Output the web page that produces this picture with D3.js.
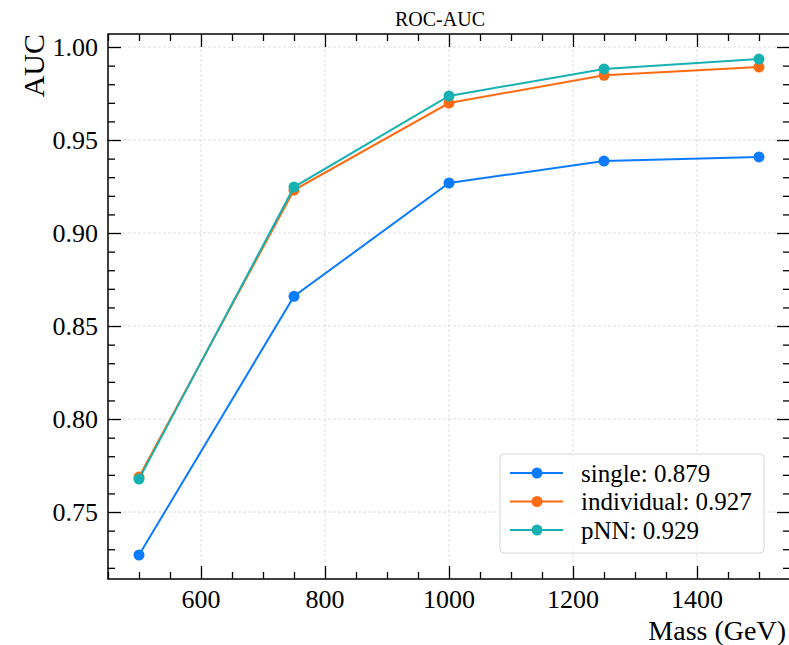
<!DOCTYPE html>
<html>
<head>
<meta charset="utf-8">
<script src="https://cdn.jsdelivr.net/npm/d3@7"></script>
<style>
  body { margin: 0; background: #fff; }
  svg text { font-family: "Liberation Serif", "DejaVu Serif", serif; fill: #000; }
</style>
</head>
<body>
<div id="root"></div>
<script>
const masses = [500, 750, 1000, 1250, 1500];
const singleAuc = [0.7269, 0.8660, 0.9269, 0.9387, 0.9409];
const individualAuc = [0.7688, 0.9231, 0.9699, 0.9848, 0.9892];
const pnnAuc = [0.7677, 0.9247, 0.9737, 0.9882, 0.9935];
const seriesNames = ['single: 0.879', 'individual: 0.927', 'pNN: 0.929'];
const seriesColors = ['#0c7bfd', '#ff6b12', '#17b1b3'];
const xTicks = [600, 800, 1000, 1200, 1400];
const yTicks = [0.75, 0.80, 0.85, 0.90, 0.95, 1.00];

const w = 789;
const h = 645;
const plotLeft = 108, plotRight = 790, plotTop = 34, plotBottom = 579;

const xScale = d3.scaleLinear().domain([450, 1550]).range([plotLeft, plotRight]);
const yScale = d3.scaleLinear().domain([0.714, 1.007]).range([plotBottom, plotTop]);

const svg = d3.select('#root')
  .append('svg')
  .attr('width', w)
  .attr('height', h);

// griglia
svg.append('g')
  .selectAll('line')
  .data(xTicks)
  .enter()
  .append('line')
  .attr('x1', d => xScale(d)).attr('x2', d => xScale(d))
  .attr('y1', plotTop).attr('y2', plotBottom)
  .attr('stroke', '#d5d5d5').attr('stroke-width', 0.8)
  .attr('stroke-dasharray', '3,2');
svg.append('g')
  .selectAll('line')
  .data(yTicks)
  .enter()
  .append('line')
  .attr('x1', plotLeft).attr('x2', plotRight)
  .attr('y1', d => yScale(d)).attr('y2', d => yScale(d))
  .attr('stroke', '#d5d5d5').attr('stroke-width', 0.8)
  .attr('stroke-dasharray', '3,2');

// assi (tick verso l'interno, su tutti i lati)
const xMinor = d3.range(450, 1551, 50).filter(v => v % 200 !== 0);
const yMinor = d3.range(72, 101).map(v => v / 100).filter(v => Math.round(v * 100) % 5 !== 0);

function styleAxis(g) {
  g.select('.domain').remove();
  g.selectAll('line').attr('stroke', '#000').attr('stroke-width', 1.3);
}

function addTicks(axisFn, pos, ticks, size, isX) {
  svg.append('g')
    .attr('transform', isX ? `translate(0, ${pos})` : `translate(${pos}, 0)`)
    .call(axisFn(isX ? xScale : yScale).tickValues(ticks).tickSize(size).tickFormat(''))
    .call(styleAxis);
}

addTicks(d3.axisTop, plotBottom, xTicks, 13, true);
addTicks(d3.axisTop, plotBottom, xMinor, 7, true);
addTicks(d3.axisBottom, plotTop, xTicks, 13, true);
addTicks(d3.axisBottom, plotTop, xMinor, 7, true);
addTicks(d3.axisRight, plotLeft, yTicks, 13, false);
addTicks(d3.axisRight, plotLeft, yMinor, 7, false);
addTicks(d3.axisLeft, plotRight, yTicks, 13, false);
addTicks(d3.axisLeft, plotRight, yMinor, 7, false);

// etichette dei tick
svg.append('g')
  .selectAll('text')
  .data(xTicks)
  .enter()
  .append('text')
  .attr('x', d => xScale(d))
  .attr('y', plotBottom + 29)
  .attr('text-anchor', 'middle')
  .style('font-size', '26px')
  .text(d => d);
svg.append('g')
  .selectAll('text')
  .data(yTicks)
  .enter()
  .append('text')
  .attr('x', plotLeft - 10)
  .attr('y', d => yScale(d))
  .attr('dy', '0.35em')
  .attr('text-anchor', 'end')
  .style('font-size', '26px')
  .text(d => d.toFixed(2));

// cornice
svg.append('rect')
  .attr('x', plotLeft).attr('y', plotTop)
  .attr('width', plotRight - plotLeft).attr('height', plotBottom - plotTop)
  .attr('fill', 'none').attr('stroke', '#000').attr('stroke-width', 1.5);

// linee e punti
const allSeries = [singleAuc, individualAuc, pnnAuc];
const line = d3.line().x((d, i) => xScale(masses[i])).y(d => yScale(d));

allSeries.forEach((vals, k) => {
  svg.append('path')
    .datum(vals)
    .attr('d', line)
    .attr('fill', 'none')
    .attr('stroke', seriesColors[k])
    .attr('stroke-width', 2);
  svg.append('g')
    .selectAll('circle')
    .data(vals)
    .enter()
    .append('circle')
    .attr('cx', (d, i) => xScale(masses[i]))
    .attr('cy', d => yScale(d))
    .attr('r', 5.5)
    .attr('fill', seriesColors[k]);
});

// titolo e assi
svg.append('text')
  .attr('x', 440).attr('y', 26)
  .attr('text-anchor', 'middle')
  .style('font-size', '20px')
  .text('ROC-AUC');
svg.append('text')
  .attr('transform', 'translate(44, 34) rotate(-90)')
  .attr('text-anchor', 'end')
  .style('font-size', '30px')
  .text('AUC');
svg.append('text')
  .attr('x', 786).attr('y', 640)
  .attr('text-anchor', 'end')
  .style('font-size', '28px')
  .text('Mass (GeV)');

// legenda
const legend = svg.append('g');
legend.append('rect')
  .attr('x', 500).attr('y', 454)
  .attr('width', 264).attr('height', 99)
  .attr('rx', 4)
  .attr('fill', '#fff').attr('fill-opacity', 0.8)
  .attr('stroke', '#d6d6d6').attr('stroke-width', 1);
seriesNames.forEach((name, k) => {
  const y = 473 + k * 28.5;
  legend.append('line')
    .attr('x1', 510).attr('x2', 563)
    .attr('y1', y).attr('y2', y)
    .attr('stroke', seriesColors[k]).attr('stroke-width', 2);
  legend.append('circle')
    .attr('cx', 537).attr('cy', y).attr('r', 5.5)
    .attr('fill', seriesColors[k]);
  legend.append('text')
    .attr('x', 581).attr('y', y)
    .attr('dy', '0.35em')
    .style('font-size', '25px')
    .text(name);
});
</script>
</body>
</html>
